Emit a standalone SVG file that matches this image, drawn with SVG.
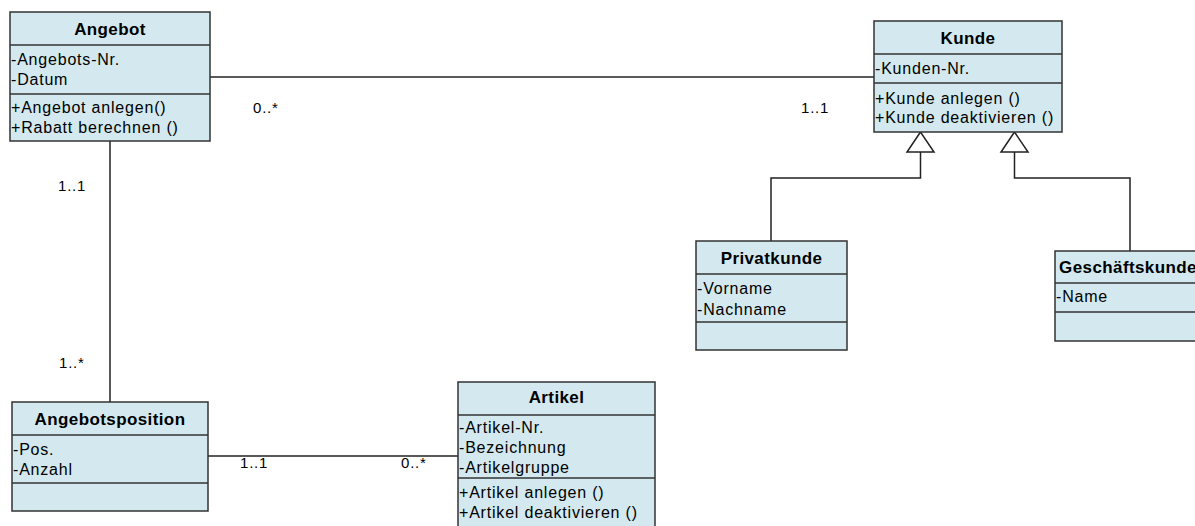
<svg xmlns="http://www.w3.org/2000/svg" width="1195" height="526" viewBox="0 0 1195 526">
<style>
.box{fill:#d3e9ef;stroke:#333;stroke-width:1.5}
.div{stroke:#333;stroke-width:1.5}
.t{font-family:"Liberation Sans",Arial,sans-serif;font-size:17px;font-weight:bold;fill:#000;text-anchor:middle;letter-spacing:0.4px}
.a{font-family:"Liberation Sans",Arial,sans-serif;font-size:16px;fill:#000;letter-spacing:0.8px}
.m{font-family:"Liberation Sans",Arial,sans-serif;font-size:15px;fill:#000;letter-spacing:0.8px}
.c{fill:none;stroke:#222;stroke-width:1.5}
.tri{fill:#fff;stroke:#222;stroke-width:1.5}
</style>
<rect width="1195" height="526" fill="#fff"/>
<g id="connectors">
<path class="c" d="M210,77 H874"/>
<path class="c" d="M110,141 V402"/>
<path class="c" d="M208,456 H458"/>
<path class="c" d="M771,241 V178 H920.5 V152"/>
<polygon class="tri" points="920.5,132 907,152 934,152"/>
<path class="c" d="M1130,251 V178 H1014.5 V152"/>
<polygon class="tri" points="1014.5,132 1001,152 1028,152"/>
<text class="m" x="253" y="113">0..*</text>
<text class="m" x="801" y="113">1..1</text>
<text class="m" x="58" y="191">1..1</text>
<text class="m" x="59" y="368">1..*</text>
<text class="m" x="240" y="468">1..1</text>
<text class="m" x="401" y="468">0..*</text>
</g>
<g id="angebot">
<rect class="box" x="10" y="12" width="200" height="129"/>
<line class="div" x1="10" y1="45" x2="210" y2="45"/>
<line class="div" x1="10" y1="94" x2="210" y2="94"/>
<text class="t" x="110" y="35">Angebot</text>
<text class="a" x="11" y="65">-Angebots-Nr.</text>
<text class="a" x="11" y="85">-Datum</text>
<text class="a" x="11" y="113">+Angebot anlegen()</text>
<text class="a" x="11" y="133">+Rabatt berechnen ()</text>
</g>
<g id="kunde">
<rect class="box" x="874" y="21" width="188" height="111"/>
<line class="div" x1="874" y1="54" x2="1062" y2="54"/>
<line class="div" x1="874" y1="83" x2="1062" y2="83"/>
<text class="t" x="968" y="44">Kunde</text>
<text class="a" x="875" y="74">-Kunden-Nr.</text>
<text class="a" x="875" y="104">+Kunde anlegen ()</text>
<text class="a" x="875" y="123">+Kunde deaktivieren ()</text>
</g>
<g id="privatkunde">
<rect class="box" x="696" y="241" width="151" height="109"/>
<line class="div" x1="696" y1="274" x2="847" y2="274"/>
<line class="div" x1="696" y1="322" x2="847" y2="322"/>
<text class="t" x="771.5" y="264">Privatkunde</text>
<text class="a" x="697" y="294">-Vorname</text>
<text class="a" x="697" y="315">-Nachname</text>
</g>
<g id="geschaeftskunde">
<rect class="box" x="1055" y="251" width="152" height="90"/>
<line class="div" x1="1055" y1="283" x2="1207" y2="283"/>
<line class="div" x1="1055" y1="312" x2="1207" y2="312"/>
<text class="t" x="1128" y="273">Geschäftskunde</text>
<text class="a" x="1056" y="302">-Name</text>
</g>
<g id="angebotsposition">
<rect class="box" x="12" y="402" width="196" height="109"/>
<line class="div" x1="12" y1="435" x2="208" y2="435"/>
<line class="div" x1="12" y1="483" x2="208" y2="483"/>
<text class="t" x="110" y="425">Angebotsposition</text>
<text class="a" x="13" y="455">-Pos.</text>
<text class="a" x="13" y="475">-Anzahl</text>
</g>
<g id="artikel">
<rect class="box" x="458" y="382" width="197" height="160"/>
<line class="div" x1="458" y1="415" x2="655" y2="415"/>
<line class="div" x1="458" y1="478" x2="655" y2="478"/>
<text class="t" x="556.5" y="403">Artikel</text>
<text class="a" x="459" y="433">-Artikel-Nr.</text>
<text class="a" x="459" y="453">-Bezeichnung</text>
<text class="a" x="459" y="473">-Artikelgruppe</text>
<text class="a" x="459" y="498">+Artikel anlegen ()</text>
<text class="a" x="459" y="518">+Artikel deaktivieren ()</text>
</g>
</svg>
